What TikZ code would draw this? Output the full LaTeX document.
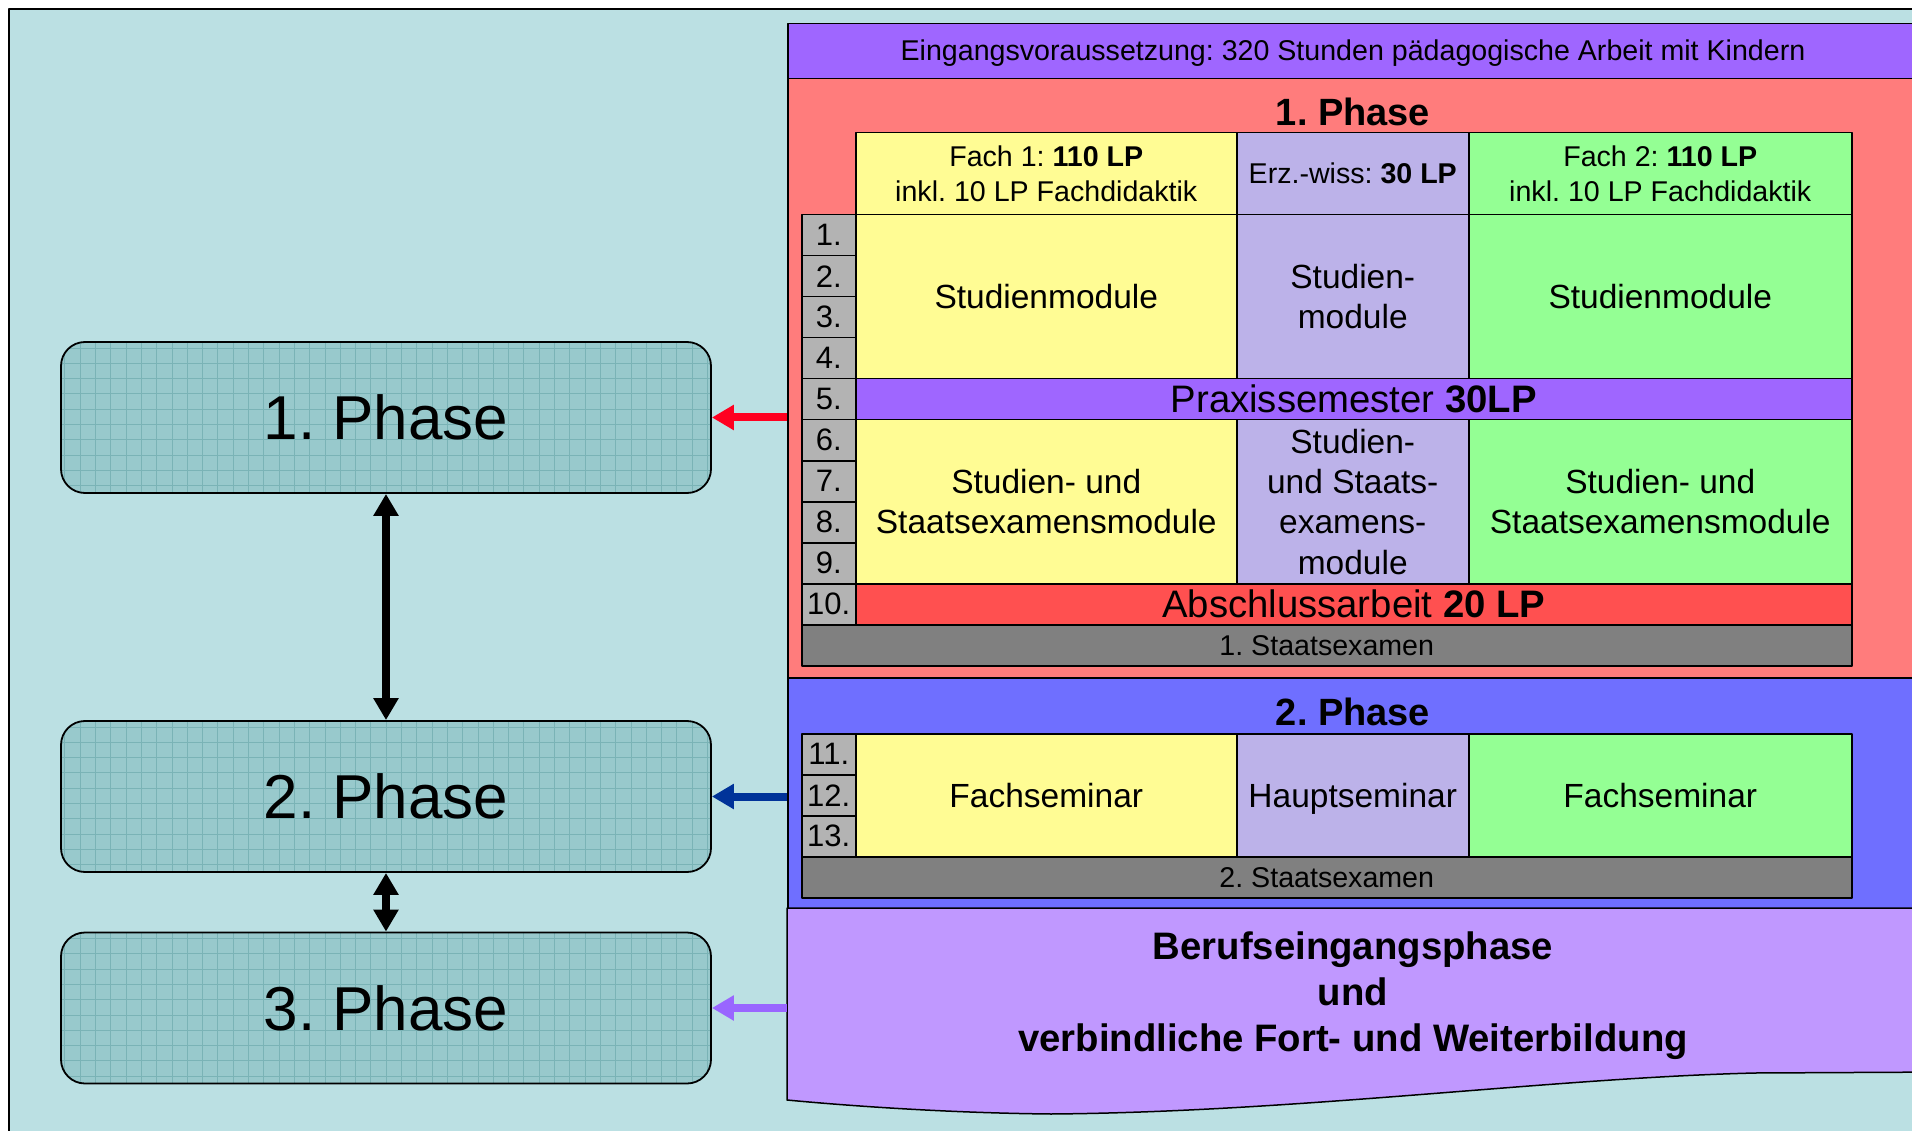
\documentclass[tikz,border=0pt]{standalone}
\usepackage{fontspec}
\setmainfont{Liberation Sans}
\usetikzlibrary{arrows.meta}
\definecolor{bgteal}{HTML}{BBE0E3}
\definecolor{boxteal}{HTML}{98C9CC}
\definecolor{gridteal}{HTML}{7AB3B6}
\definecolor{topviolet}{HTML}{9F66FF}
\definecolor{phasered}{HTML}{FF7C7C}
\definecolor{phaseblue}{HTML}{6F6FFF}
\definecolor{berufviolet}{HTML}{C098FF}
\definecolor{fachyellow}{HTML}{FFFC94}
\definecolor{erzlilac}{HTML}{BCB2E9}
\definecolor{fachgreen}{HTML}{94FF94}
\definecolor{thesisred}{HTML}{FF5050}
\definecolor{examgray}{HTML}{808080}
\definecolor{numgray}{HTML}{B3B3B3}
\definecolor{arrowred}{HTML}{FF0020}
\definecolor{arrowblue}{HTML}{003399}
\definecolor{arrowviolet}{HTML}{9966FF}
\newcommand\hdfont{\fontsize{28.6}{34.3}\selectfont}
\newcommand\cellfont{\fontsize{33.5}{40.2}\selectfont}
\newcommand\bigfont{\fontsize{38.3}{46}\selectfont}
\newcommand\titlefont{\fontsize{38}{45}\selectfont\bfseries}
\newcommand\numfont{\fontsize{31}{37}\selectfont}
\newcommand\phasefont{\fontsize{62}{74}\selectfont}
\frenchspacing
\begin{document}
\frenchspacing
\begin{tikzpicture}[x=1pt, y=-1pt, line join=round,
    every node/.style={inner sep=0pt, align=center},
    region/.style={draw, line width=1.5pt, anchor=north west, minimum width=1160},
    cell/.style={draw, line width=1.5pt, anchor=north west, font=\cellfont},
    numcell/.style={cell, fill=numgray, minimum width=54, minimum height=41, font=\numfont},
    phasebox/.style={draw, line width=1.8pt, fill=boxteal, rounded corners=24pt,
        minimum width=650, minimum height=151, font=\phasefont,
        path picture={\draw[gridteal, line width=0.6pt, step=15.3pt]
            (path picture bounding box.south west) grid (path picture bounding box.north east);}},
    bigarrow/.style={line width=8pt, {Triangle[width=24pt,length=22pt]}-{Triangle[width=24pt,length=22pt]}},
    sidearrow/.style={line width=8pt, -{Triangle[width=24pt,length=22pt]}}]
\useasboundingbox (0,0) rectangle (1912,1131);
\clip (0,0) rectangle (1912,1131);
\fill[white] (0,0) rectangle (1912,1131);
\draw[line width=2pt, fill=bgteal] (9,9) rectangle (1950,1160);
        \def\xa{801} \def\xb{855} \def\xc{1236} \def\xd{1468} \def\rh{41}
% right panel
\node[region, fill=topviolet, minimum height=55] (entry) at (787,23) {};
\node[region, fill=phasered, minimum height=599] (redreg) at (787,78) {};
\node[region, fill=phaseblue, minimum height=231] (bluereg) at (787,677) {};
\coordinate (berufwest) at (787,908);
\draw[line width=1.5pt, fill=berufviolet] (berufwest) -- (1950,908) -- (1950,1072) -- (1755,1073)
    .. controls (1550,1078) and (1300,1112) .. (1051,1114)
    .. controls (950,1113) and (850,1106) .. (787,1100) -- cycle;
\node[font=\hdfont] (entrytxt) at (1353,53) {Eingangsvoraussetzung: 320 Stunden pädagogische Arbeit mit Kindern};
% 1. Phase
\node[font=\titlefont] (titleA) at (1353,112) {1. Phase};
\node[cell, fill=fachyellow, minimum width=381, minimum height=82, font=\hdfont] (headA) at (\xb,132) {Fach 1: \textbf{110 LP}\\inkl. 10 LP Fachdidaktik};
\node[cell, fill=erzlilac, minimum width=232, minimum height=82, font=\hdfont] (headB) at (\xc,132) {Erz.-wiss: \textbf{30 LP}};
\node[cell, fill=fachgreen, minimum width=383, minimum height=82, font=\hdfont] (headC) at (\xd,132) {Fach 2: \textbf{110 LP}\\inkl. 10 LP Fachdidaktik};
\foreach \i in {1,...,10}
    \node[numcell] (num\i) at (\xa,{214+(\i-1)*\rh}) {\i.};
\node[cell, fill=fachyellow, minimum width=381, minimum height=164] (studA) at (\xb,214) {Studienmodule};
\node[cell, fill=erzlilac, minimum width=232, minimum height=164] (studB) at (\xc,214) {Studien-\\module};
\node[cell, fill=fachgreen, minimum width=383, minimum height=164] (studC) at (\xd,214) {Studienmodule};
\node[cell, fill=topviolet, minimum width=996, minimum height=41, font=\bigfont] (praxis) at (\xb,378) {Praxissemester \textbf{30LP}};
\node[cell, fill=fachyellow, minimum width=381, minimum height=164] (examodA) at (\xb,419) {Studien- und\\Staatsexamensmodule};
\node[cell, fill=erzlilac, minimum width=232, minimum height=164] (examodB) at (\xc,419) {Studien-\\und Staats-\\examens-\\module};
\node[cell, fill=fachgreen, minimum width=383, minimum height=164] (examodC) at (\xd,419) {Studien- und\\Staatsexamensmodule};
\node[cell, fill=thesisred, minimum width=996, minimum height=41, font=\bigfont] (thesis) at (\xb,583) {Abschlussarbeit \textbf{20 LP}};
\node[cell, fill=examgray, minimum width=1050, minimum height=41, font=\hdfont] (examA) at (\xa,624) {1. Staatsexamen};
% 2. Phase
\node[font=\titlefont] (titleB) at (1353,712) {2. Phase};
\foreach \i in {11,12,13}
    \node[numcell] (num\i) at (\xa,{733+(\i-11)*\rh}) {\i.};
\node[cell, fill=fachyellow, minimum width=381, minimum height=123] (semA) at (\xb,733) {Fachseminar};
\node[cell, fill=erzlilac, minimum width=232, minimum height=123, text depth=0pt] (semB) at (\xc,733) {Hauptseminar};
\node[cell, fill=fachgreen, minimum width=383, minimum height=123] (semC) at (\xd,733) {Fachseminar};
\node[cell, fill=examgray, minimum width=1050, minimum height=41, font=\hdfont] (examB) at (\xa,856) {2. Staatsexamen};
% 3. Phase
\node[font=\bigfont\bfseries] (beruf) at (1353,996) {Berufseingangsphase\\und\\verbindliche Fort- und Weiterbildung};
% left column
\node[phasebox] (phaseA) at (386,417.5) {1. Phase};
\node[phasebox] (phaseB) at (386,796.5) {2. Phase};
\node[phasebox] (phaseC) at (386,1008) {3. Phase};
        \draw[bigarrow] (phaseA.south) -- (phaseB.north);
        \draw[bigarrow] (phaseB.south) -- (phaseC.north);
        \draw[sidearrow, draw=arrowred] (redreg.west |- phaseA.east) -- (phaseA.east);
        \draw[sidearrow, draw=arrowblue] (bluereg.west |- phaseB.east) -- (phaseB.east);
        \draw[sidearrow, draw=arrowviolet] (berufwest |- phaseC.east) -- (phaseC.east);
\end{tikzpicture}
\end{document}
